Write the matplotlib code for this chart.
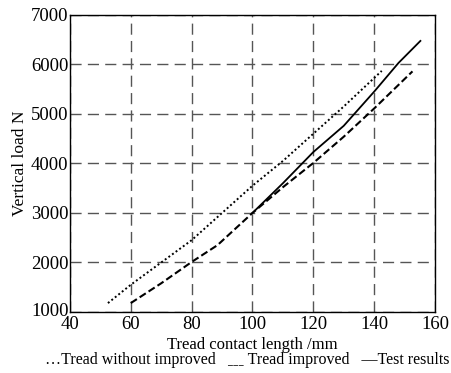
import matplotlib.pyplot as plt
import matplotlib.transforms as mtransforms

# Tread without improved (dotted)
x_without = [52.5, 60, 70, 80, 90, 100, 110, 120, 130, 142.5]
y_without = [1180, 1550, 2000, 2450, 3000, 3550, 4050, 4600, 5150, 5870]

# Tread improved (dashed)
x_improved = [60, 70, 80, 88.5, 100, 110, 120, 130, 140, 152.6]
y_improved = [1180, 1580, 2010, 2350, 3000, 3520, 4010, 4540, 5110, 5860]

# Test results (solid)
x_test = [100, 110, 120, 130, 140, 148, 155.2]
y_test = [3000, 3600, 4230, 4760, 5450, 6030, 6475]

xticks = [40, 60, 80, 100, 120, 140, 160]
yticks = [1000, 2000, 3000, 4000, 5000, 6000, 7000]

plt.rcParams["font.family"] = ["Liberation Serif", "DejaVu Serif"]

fig = plt.figure(figsize=(4.51, 3.73), dpi=100)
ax = fig.add_axes([0.155, 0.1635, 0.8095, 0.7965])

ax.plot(x_without, y_without, color="black", lw=1.4, linestyle=(0, (1, 1.3)))
ax.plot(x_improved, y_improved, color="black", lw=1.5, linestyle=(0, (3.5, 1.6)))
ax.plot(x_test, y_test, color="black", lw=1.3, linestyle="-")

ax.set_xlim(40, 160)
ax.set_ylim(1000, 7000)
ax.set_xticks(xticks)
ax.set_yticks(yticks)
ax.tick_params(length=0, labelsize=13.5)
ax.tick_params(axis="x", pad=3)
ax.tick_params(axis="y", pad=1)
ax.grid(True, color="#555555", lw=1.0, linestyle=(0, (8, 4.5)))

# nudge the bottom y label up a little so it doesn't sit on the "40"
lbl = ax.get_yticklabels()[0]
lbl.set_transform(lbl.get_transform() + mtransforms.ScaledTranslation(0, 3 / 100, fig.dpi_scale_trans))

for s in ax.spines.values():
    s.set_color("black")
    s.set_linewidth(1.0)

ax.set_xlabel("Tread contact length /mm", fontsize=12, labelpad=2.5)
ax.set_ylabel("Vertical load N", fontsize=12.5, labelpad=2)

fig.text(0.548, 0.014,
         "\u2026Tread without improved   \u02cd\u02cd\u02cd Tread improved   \u2014Test results",
         ha="center", va="bottom", fontsize=11.5)

fig.savefig("out.png", dpi=100)
